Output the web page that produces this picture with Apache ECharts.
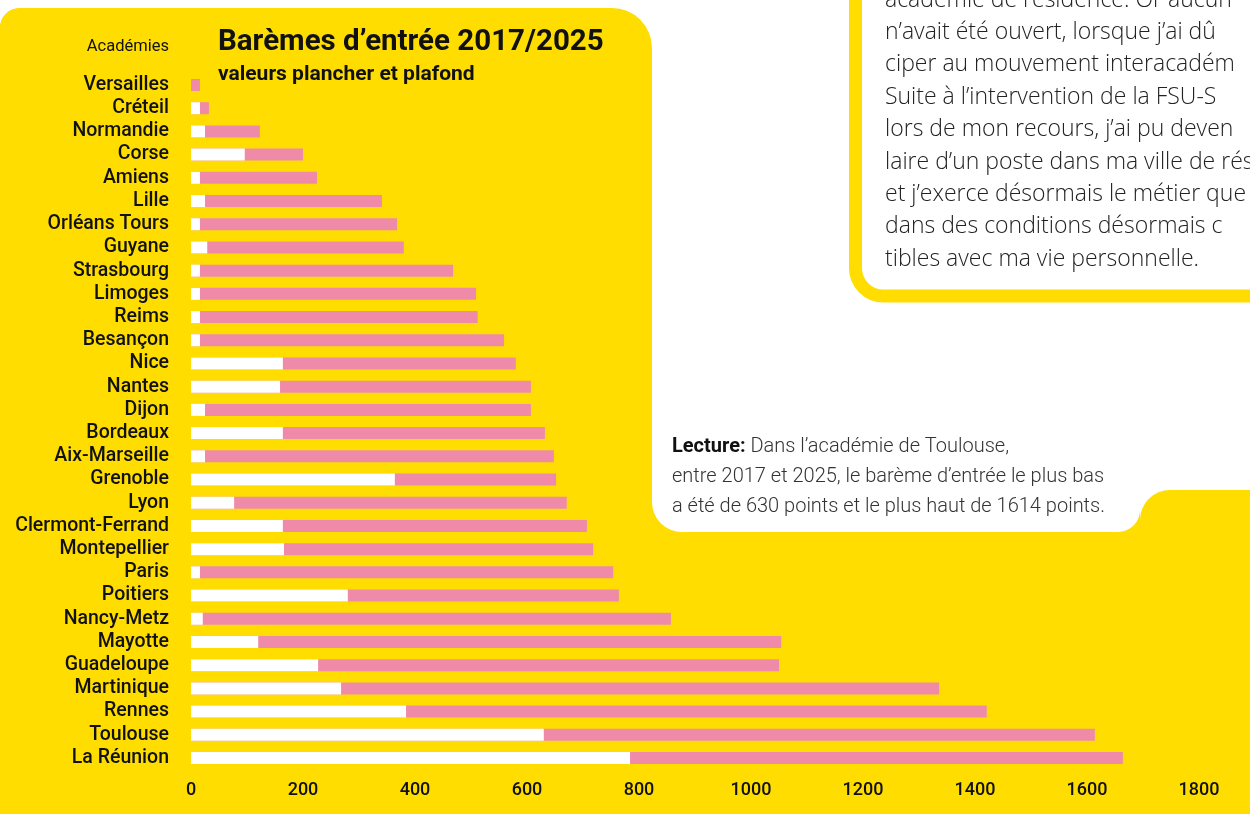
<!DOCTYPE html>
<html>
<head>
<meta charset="utf-8">
<script src="https://cdn.jsdelivr.net/npm/echarts@6/dist/echarts.min.js"></script>
<style>
html,body{margin:0;padding:0;background:#fff;}
#c{width:1250px;height:814px;}
</style>
</head>
<body>
<div id="c"></div>
<script>
var academies = ['Versailles','Créteil','Normandie','Corse','Amiens','Lille','Orléans Tours','Guyane','Strasbourg','Limoges','Reims','Besançon','Nice','Nantes','Dijon','Bordeaux','Aix-Marseille','Grenoble','Lyon','Clermont-Ferrand','Montepellier','Paris','Poitiers','Nancy-Metz','Mayotte','Guadeloupe','Martinique','Rennes','Toulouse','La Réunion'];
var plancher = [0,16,25,96,16,25,16,29,16,16,16,16,164,159,25,164,25,364,77,164,166,16,280,21,120,227,268,384,630,784];
var plafond = [16,32,123,200,225,341,368,380,468,509,512,559,580,607,607,632,648,652,671,707,718,754,764,857,1054,1050,1336,1421,1614,1664];
var xTicks = [0,200,400,600,800,1000,1200,1400,1600,1800];

var title = 'Barèmes d\u2019entrée 2017/2025';
var subtitle = 'valeurs plancher et plafond';
var axisName = 'Académies';
var lectureLines = ['Dans l\u2019académie de Toulouse,', 'entre 2017 et 2025, le barème d\u2019entrée le plus bas', 'a été de 630 points et le plus haut de 1614 points.'];
var temoignage = ['académie de résidence. Or aucun','n\u2019avait été ouvert, lorsque j\u2019ai dû','ciper au mouvement interacadém','Suite à l\u2019intervention de la FSU-S','lors de mon recours, j\u2019ai pu deven','laire d\u2019un poste dans ma ville de rés','et j\u2019exerce désormais le métier que','dans des conditions désormais c','tibles avec ma vie personnelle.'];

var Y = '#FFDD00';
var PINK = '#EF8BA9';
var FONT = 'Roboto, "Noto Sans", sans-serif';
var BODY = '"Open Sans", Roboto, sans-serif';

var chart = echarts.init(document.getElementById('c'), null, {renderer:'canvas'});

var graphics = [
  {type:'rect', z:-5, shape:{x:0,y:8,width:1250,height:806,r:[20,0,0,0]}, style:{fill:Y}},
  {type:'rect', z:-4, shape:{x:600,y:0,width:52,height:60}, style:{fill:'#fff'}},
  {type:'rect', z:-3, shape:{x:0,y:8,width:652,height:200,r:[20,40,0,0]}, style:{fill:Y}},
  {type:'rect', z:-3, shape:{x:652,y:0,width:488,height:532,r:[0,0,22,30]}, style:{fill:'#fff'}},
  {type:'rect', z:-3, shape:{x:1140,y:0,width:110,height:520}, style:{fill:'#fff'}},
  {type:'rect', z:-2, shape:{x:1140,y:490,width:110,height:324,r:[30,0,0,0]}, style:{fill:Y}},
  {type:'rect', z:-1, shape:{x:855.5,y:-60,width:450,height:356,r:28}, style:{fill:'#fff', stroke:Y, lineWidth:13}},
  {type:'text', z:10, style:{text:title, x:218, y:43, fill:'#111', font:'bold 29.5px '+FONT, verticalAlign:'middle'}},
  {type:'text', z:10, style:{text:subtitle, x:218, y:75, fill:'#111', font:'bold 21px '+FONT, verticalAlign:'middle'}},
  {type:'text', z:10, style:{text:axisName, x:169, y:47, fill:'#111', font:'400 16.5px '+FONT, align:'right', verticalAlign:'middle'}},
  {type:'text', z:10, style:{text:'{b|Lecture:} ' + lectureLines[0], x:672, y:447, fill:'#333', font:'300 20px '+FONT, verticalAlign:'middle',
     rich:{b:{font:'bold 20px '+FONT, fill:'#111'}}}},
  {type:'text', z:10, style:{text:lectureLines[1], x:672, y:477, fill:'#333', font:'300 20px '+FONT, verticalAlign:'middle'}},
  {type:'text', z:10, style:{text:lectureLines[2], x:672, y:507, fill:'#333', font:'300 20px '+FONT, verticalAlign:'middle'}}
];
temoignage.forEach(function(t,i){
  graphics.push({type:'text', z:10, style:{text:t, x:885, y:0 + i*32.4, fill:'#222', font:'300 23px '+BODY, verticalAlign:'middle'}});
});

chart.setOption({
  animation:false,
  backgroundColor:'transparent',
  grid:{left:191, right:51, top:73.4, bottom:44.4, containLabel:false},
  xAxis:{type:'value', min:0, max:1800, interval:200,
    axisLine:{show:false}, axisTick:{show:false}, splitLine:{show:false},
    axisLabel:{color:'#111', fontSize:18, fontWeight:500, fontFamily:FONT, margin:12,
      customValues: xTicks, formatter:function(v){return String(v);}}},
  yAxis:{type:'category', inverse:true, data:academies,
    axisLine:{show:false}, axisTick:{show:false}, splitLine:{show:false},
    axisLabel:{color:'#111', fontSize:19.5, fontWeight:500, fontFamily:FONT, margin:22, interval:0}},
  series:[
    {name:'plafond', type:'bar', data:plafond, barWidth:12, barGap:'-100%', itemStyle:{color:PINK}, silent:true},
    {name:'plancher', type:'bar', data:plancher, barWidth:12, barGap:'-100%', itemStyle:{color:'#fff'}, silent:true}
  ],
  graphic:graphics
});
</script>
</body>
</html>
